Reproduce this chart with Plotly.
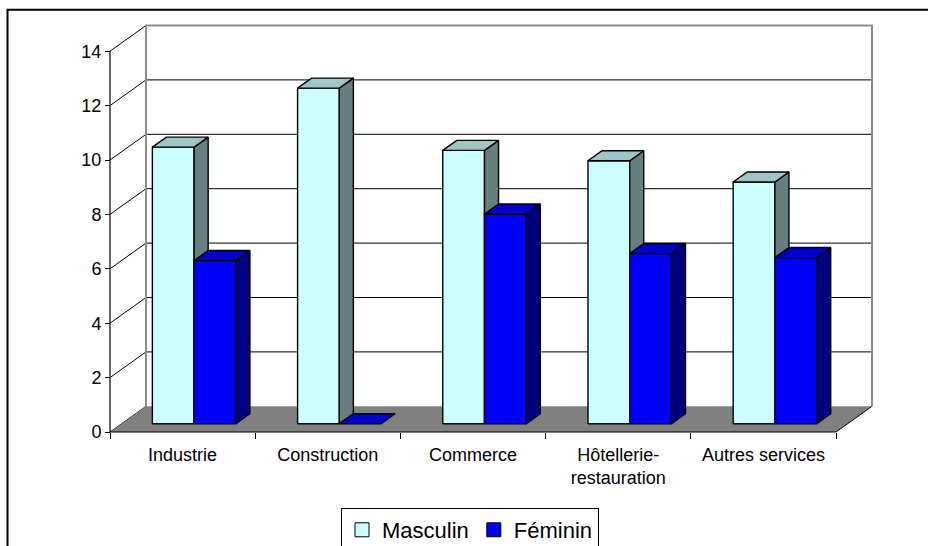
import plotly.graph_objects as go

# ---------------- data ----------------
categories = ["Industrie", "Construction", "Commerce", "Hôtellerie-<br>restauration", "Autres services"]
masculin = [10.17, 12.34, 10.05, 9.67, 8.89]
feminin = [6.0, 0.0, 7.71, 6.26, 6.11]
series_names = ["Masculin", "Féminin"]
y_ticks = [0, 2, 4, 6, 8, 10, 12, 14]

# ---------------- geometry (in axis units) ----------------
W, H = 928, 546
X0_PX, SX = 110, 145.2      # pixel of x=0, px per category
Y0_PX, SY = 432, 27.2       # pixel of y=0, px per unit
DX, DY = 36 / SX, 25.7 / SY  # full depth vector
YMAX = 14
N = len(categories)
D0, D1 = 0.32, 0.71         # bar depth span (fraction of depth)
BW = 0.2875                 # bar width (category units)

xr = [-X0_PX / SX, (W - X0_PX) / SX]
yr = [-(H - Y0_PX) / SY, Y0_PX / SY]

FONT = "Liberation Sans, Arial, sans-serif"

fig = go.Figure()


def proj(x, v, d):
    return x + d * DX, v + d * DY


def poly(pts, fill, lc="black", lw=1.4):
    xs = [p[0] for p in pts] + [pts[0][0]]
    ys = [p[1] for p in pts] + [pts[0][1]]
    fig.add_trace(go.Scatter(x=xs, y=ys, mode="lines", fill="toself", fillcolor=fill,
                             line=dict(color=lc, width=lw), showlegend=False, hoverinfo="skip"))


def seg(p, q, color="black", width=1):
    fig.add_trace(go.Scatter(x=[p[0], q[0]], y=[p[1], q[1]], mode="lines",
                             line=dict(color=color, width=width), showlegend=False, hoverinfo="skip"))


# back wall
poly([proj(0, 0, 1), proj(N, 0, 1), proj(N, YMAX, 1), proj(0, YMAX, 1)], "white", lc="rgba(0,0,0,0)", lw=0)
for v in y_ticks[1:-1]:
    seg(proj(0, v, 1), proj(N, v, 1), "black", 1)
# side wall diagonals
for v in y_ticks:
    seg(proj(0, v, 0), proj(0, v, 1), "black", 1)
# floor
poly([proj(0, 0, 0), proj(N, 0, 0), proj(N, 0, 1), proj(0, 0, 1)], "#808080", lc="rgba(0,0,0,0)", lw=0)
seg(proj(N, 0, 0), proj(N, 0, 1), "black", 1)
# back wall grey border
fig.add_trace(go.Scatter(x=[proj(0, 0, 1)[0], proj(0, YMAX, 1)[0], proj(N, YMAX, 1)[0], proj(N, 0, 1)[0]],
                         y=[proj(0, 0, 1)[1], proj(0, YMAX, 1)[1], proj(N, YMAX, 1)[1], proj(N, 0, 1)[1]],
                         mode="lines", line=dict(color="#8c8c8c", width=2), showlegend=False, hoverinfo="skip"))
# axis lines
seg((0, 0), (0, YMAX), "black", 1.2)
seg((0, 0), (N, 0), "black", 1.2)

colors = {
    "Masculin": ("#CCFFFF", "#9FC6C6", "#668080"),
    "Féminin": ("#0000FF", "#0000CC", "#000080"),
}

for i in range(N):
    c = i + 0.5
    for s, (name, vals) in enumerate(zip(series_names, [masculin, feminin])):
        v = vals[i]
        xl = c - BW + s * BW
        xrr = xl + BW
        front, top, side = colors[name]
        if v > 0:
            poly([proj(xl, 0, D0), proj(xrr, 0, D0), proj(xrr, v, D0), proj(xl, v, D0)], front)
            poly([proj(xrr, 0, D0), proj(xrr, 0, D1), proj(xrr, v, D1), proj(xrr, v, D0)], side)
        poly([proj(xl, v, D0), proj(xrr, v, D0), proj(xrr, v, D1), proj(xl, v, D1)], top)

# legend entries
for name in series_names:
    fig.add_trace(go.Scatter(x=[None], y=[None], mode="markers", name=name,
                             marker=dict(symbol="square", size=14, color=colors[name][0],
                                         line=dict(color="black", width=1))))

# helper trace for label axis
fig.add_trace(go.Scatter(x=[None], y=[None], xaxis="x2", yaxis="y", showlegend=False, hoverinfo="skip"))

fig.update_layout(
    width=W, height=H,
    margin=dict(l=0, r=0, t=0, b=0, pad=0, autoexpand=False),
    paper_bgcolor="white", plot_bgcolor="white",
    font=dict(family=FONT, color="black"),
    xaxis=dict(range=xr, anchor="free", position=(H - Y0_PX) / H, showgrid=False, zeroline=False,
               showline=False, tickmode="array", tickvals=list(range(N + 1)), ticktext=[""] * (N + 1),
               ticks="outside", ticklen=6, tickwidth=1, tickcolor="black", fixedrange=True),
    xaxis2=dict(range=xr, overlaying="x", anchor="free", position=(H - Y0_PX) / H, showgrid=False,
                zeroline=False, showline=False, tickmode="array",
                tickvals=[i + 0.5 for i in range(N)], ticktext=categories,
                ticks="outside", ticklen=6, tickcolor="rgba(0,0,0,0)",
                tickfont=dict(family=FONT, size=18, color="black"), fixedrange=True),
    yaxis=dict(range=yr, anchor="free", position=X0_PX / W, showgrid=False, zeroline=False,
               showline=False, tickmode="array", tickvals=y_ticks,
               ticks="outside", ticklen=5, tickwidth=1, tickcolor="black",
               tickfont=dict(family=FONT, size=18, color="black"), fixedrange=True),
    legend=dict(orientation="h", x=470 / W, xanchor="center", y=(H - 508) / H, yanchor="top",
                bordercolor="black", borderwidth=1, bgcolor="white",
                font=dict(family=FONT, size=22, color="black")),
    shapes=[dict(type="rect", xref="paper", yref="paper", x0=7.5 / W, x1=1.05, y0=-0.1, y1=1 - 9.7 / H,
                 line=dict(color="black", width=2), fillcolor="rgba(0,0,0,0)", layer="below")],
    showlegend=True,
)

fig.write_html("out.html", config={"displayModeBar": False},
               post_script="document.body.style.margin='0';document.body.style.overflow='hidden';")
